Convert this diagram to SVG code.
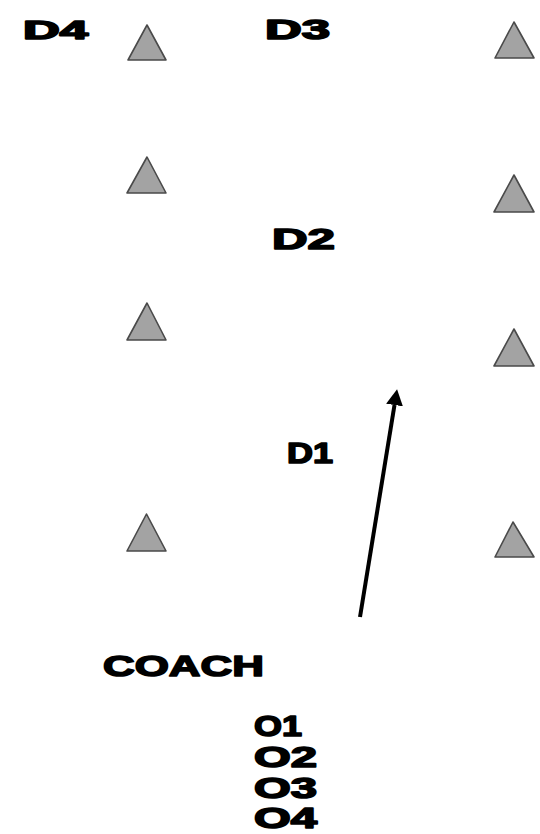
<svg xmlns="http://www.w3.org/2000/svg" width="540" height="834" viewBox="0 0 540 834">
<style>
.lbl{font-family:"Liberation Sans",Arial,sans-serif;font-weight:bold;fill:#000;stroke:#000;stroke-width:1.6;stroke-linejoin:round}
.cone{fill:#a3a3a3;stroke:#4a4a4a;stroke-width:1.6;stroke-linejoin:round}
</style>
<defs>
<marker id="ah" markerUnits="userSpaceOnUse" markerWidth="20" markerHeight="20" viewBox="0 -10 20 20" refX="0" refY="0" orient="auto">
<path d="M0,-8.5 L16,0 L0,8.5 Z" fill="#000"/>
</marker>
</defs>
<rect width="540" height="834" fill="#fff"/>
<g id="cones">
<g id="cone-l1"><polygon class="cone" points="147,25 128,60 166,60"/></g>
<g id="cone-l2"><polygon class="cone" points="147,157 127,193 166,193"/></g>
<g id="cone-l3"><polygon class="cone" points="147,303 127,340 166,340"/></g>
<g id="cone-l4"><polygon class="cone" points="146.5,514 127,551 166,551"/></g>
<g id="cone-r1"><polygon class="cone" points="514,22 495,58 534,58"/></g>
<g id="cone-r2"><polygon class="cone" points="514,175 494,212 534,212"/></g>
<g id="cone-r3"><polygon class="cone" points="514,329 494,366 534,366"/></g>
<g id="cone-r4"><polygon class="cone" points="513,522 495,557 534,557"/></g>
</g>
<g id="connectors">
<line x1="360" y1="617" x2="394.5" y2="405" stroke="#000" stroke-width="4" marker-end="url(#ah)"/>
</g>
<g id="D4"><text class="lbl" x="23" y="39" font-size="25" textLength="65" lengthAdjust="spacingAndGlyphs">D4</text></g>
<g id="D3"><text class="lbl" x="265" y="39" font-size="27" textLength="65" lengthAdjust="spacingAndGlyphs">D3</text></g>
<g id="D2"><text class="lbl" x="272" y="249" font-size="29" textLength="63" lengthAdjust="spacingAndGlyphs">D2</text></g>
<g id="D1"><text class="lbl" x="287" y="463" font-size="29" textLength="46" lengthAdjust="spacingAndGlyphs">D1</text></g>
<g id="COACH"><text class="lbl" x="103" y="676" font-size="30" textLength="161" lengthAdjust="spacingAndGlyphs">COACH</text></g>
<g id="O1"><text class="lbl" x="254" y="736" font-size="29" textLength="48" lengthAdjust="spacingAndGlyphs">O1</text></g>
<g id="O2"><text class="lbl" x="254" y="767" font-size="29" textLength="63" lengthAdjust="spacingAndGlyphs">O2</text></g>
<g id="O3"><text class="lbl" x="254" y="798" font-size="29" textLength="63" lengthAdjust="spacingAndGlyphs">O3</text></g>
<g id="O4"><text class="lbl" x="254" y="828" font-size="29" textLength="63" lengthAdjust="spacingAndGlyphs">O4</text></g>
</svg>
